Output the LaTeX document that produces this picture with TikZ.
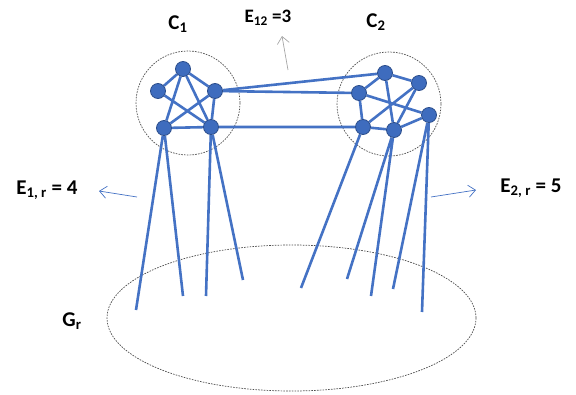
\documentclass[tikz,border=0pt]{standalone}
\usepackage{fontspec}
\setmainfont{Carlito}
\usetikzlibrary{arrows.meta,backgrounds}
\definecolor{edgeblue}{RGB}{68,114,196}
\definecolor{nodeblue}{RGB}{62,108,190}
\definecolor{rimblue}{RGB}{44,78,140}
\begin{document}
\begin{tikzpicture}[x=1pt,y=-1pt,
  vert/.style={circle,fill=nodeblue,draw=rimblue,line width=0.8pt,minimum size=15pt,inner sep=0pt},
  link/.style={draw=edgeblue,line width=2.6pt},
  grp/.style={draw=black!70,line width=0.7pt,dash pattern=on 1.6pt off 1.2pt},
  lbl/.style={font=\bfseries\fontsize{21}{24}\selectfont},
  pointer/.style={-{Straight Barb[length=7pt,width=12pt]},line width=0.7pt}]
\useasboundingbox (0,0) rectangle (576,394);
\node[vert] (u1) at (183,69) {};
\node[vert] (u2) at (158,91) {};
\node[vert] (u3) at (215,91) {};
\node[vert] (u4) at (164,128) {};
\node[vert] (u5) at (211,127) {};
\node[vert] (v1) at (385,73) {};
\node[vert] (v2) at (419,83) {};
\node[vert] (v3) at (359,93) {};
\node[vert] (v4) at (429,115) {};
\node[vert] (v5) at (363,127) {};
\node[vert] (v6) at (394,130) {};
\coordinate (p1) at (136,310);
\coordinate (p2) at (183,296);
\coordinate (p3) at (206,296);
\coordinate (p4) at (243,280);
\coordinate (p5) at (301,288);
\coordinate (p6) at (347,279);
\coordinate (p7) at (371,296);
\coordinate (p8) at (393,289);
\coordinate (p9) at (422,312);
\begin{scope}[on background layer]
\draw[grp] (188,103) circle (52);
\draw[grp] (389,104) circle (52);
\draw[grp] (291.5,318) ellipse [x radius=184.5,y radius=73];
\draw[link] (u1) -- (u2) (u1) -- (u3) (u1) -- (u4) (u1) -- (u5) (u2) -- (u5) (u3) -- (u4) (u4) -- (u5) (u3) -- (u5);
\draw[link] (v1) -- (v2) (v1) -- (v3) (v1) -- (v6) (v3) -- (v4) (v3) -- (v5) (v5) -- (v2) (v6) -- (v2) (v5) -- (v6) (v6) -- (v4);
\draw[link] (u3) -- (v1) (u3) -- (v3) (u5) -- (v5);
\draw[link] (u4) -- (p1) (u4) -- (p2) (u5) -- (p3) (u5) -- (p4);
\draw[link] (v5) -- (p5) (v6) -- (p6) (v6) -- (p7) (v4) -- (p8) (v4) -- (p9);
\end{scope}
\node[lbl] (c1) at (178,24) {C\textsubscript{1}};
\node[lbl] (c2) at (376,22) {C\textsubscript{2}};
\node[lbl,font=\bfseries\fontsize{19}{22}\selectfont] (e12) at (268,18) {E\textsubscript{12} =3};
\node[lbl] (e1) at (47,190) {E\textsubscript{1, r} = 4};
\node[lbl] (e2) at (531,188) {E\textsubscript{2, r} = 5};
\node[lbl] (gr) at (72,321) {G\textsubscript{r}};
\coordinate (a12) at (288,70);
\coordinate (h12) at (282,36);
\coordinate (a1) at (137,197);
\coordinate (h1) at (99,191);
\coordinate (a2) at (431,197);
\coordinate (h2) at (476,190);
\draw[pointer,draw=black!35] (a12) -- (h12);
\draw[pointer,draw=edgeblue] (a1) -- (h1);
\draw[pointer,draw=edgeblue] (a2) -- (h2);
\end{tikzpicture}
\end{document}
